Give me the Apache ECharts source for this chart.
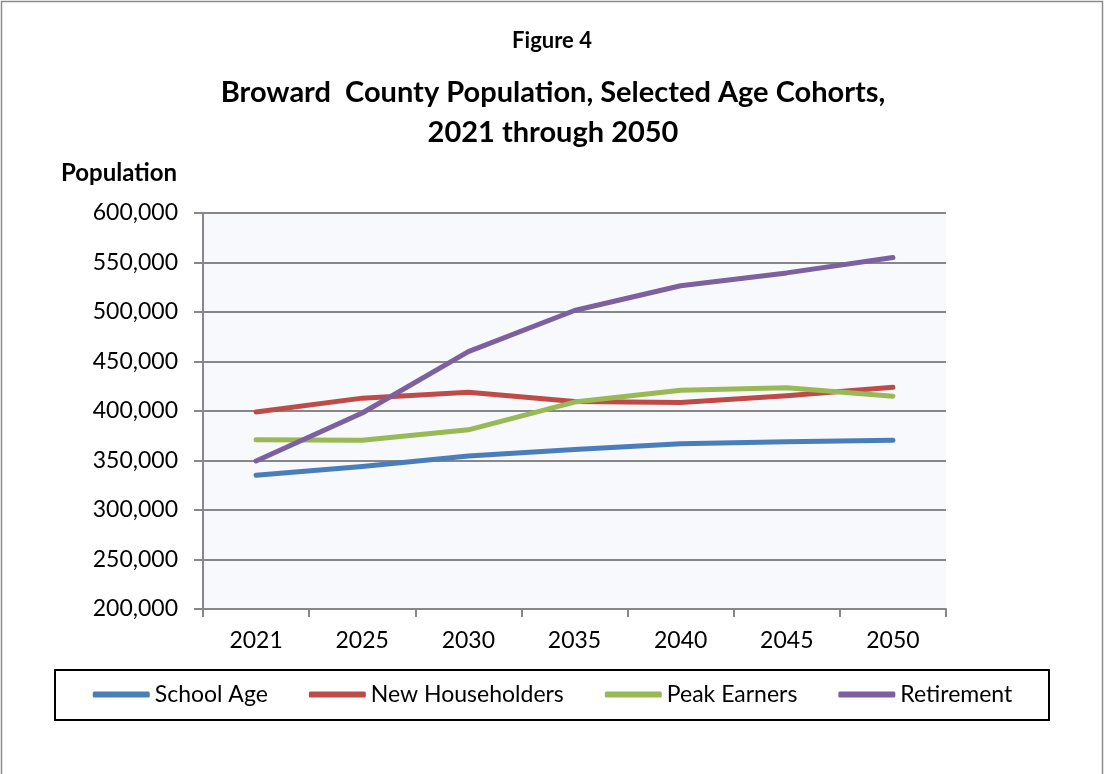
<!DOCTYPE html>
<html>
<head>
<meta charset="utf-8">
<script src="https://cdn.jsdelivr.net/npm/echarts@6/dist/echarts.min.js"></script>
<style>
  html, body { margin: 0; padding: 0; background: #ffffff; }
  #chart { width: 1105px; height: 774px; }
</style>
</head>
<body>
<div id="chart"></div>
<script>
// Years on the category axis
const years = ['2021', '2025', '2030', '2035', '2040', '2045', '2050'];

// Population by age cohort
const schoolAge       = [335000, 344000, 354500, 361000, 367000, 369000, 370500];
const newHouseholders = [399000, 413000, 419000, 409500, 408500, 415500, 424000];
const peakEarners     = [371000, 370500, 381000, 409000, 421000, 423500, 415000];
const retirement      = [349500, 398000, 460000, 501500, 526500, 539500, 555000];

// Value axis ticks
const yTicks = [200000, 250000, 300000, 350000, 400000, 450000, 500000, 550000, 600000];

const FONT = 'Lato, "Open Sans", "Noto Sans", sans-serif';
const colors = ['#4A7EBB', '#BE4B48', '#98B954', '#7D60A0'];

function lineSeries(name, data, color) {
  return {
    name: name,
    type: 'line',
    data: data,
    symbol: 'none',
    silent: true,
    color: color,
    lineStyle: { width: 5, color: color, cap: 'round', join: 'round' }
  };
}

const chart = echarts.init(document.getElementById('chart'), null, { renderer: 'canvas' });

chart.setOption({
  animation: false,
  backgroundColor: '#ffffff',
  textStyle: { fontFamily: FONT },
  grid: {
    left: 203, right: 159, top: 213, bottom: 165,
    show: true, backgroundColor: '#F7F9FD', borderWidth: 0
  },
  xAxis: {
    type: 'category',
    data: years,
    boundaryGap: true,
    axisLine: { show: true, lineStyle: { color: '#878787', width: 2 } },
    axisTick: { show: true, length: 8, lineStyle: { color: '#878787', width: 2 } },
    axisLabel: { color: '#000000', fontSize: 23, fontFamily: FONT, margin: 20 },
    splitLine: { show: false }
  },
  yAxis: {
    type: 'value',
    min: yTicks[0],
    max: yTicks[yTicks.length - 1],
    interval: yTicks[1] - yTicks[0],
    axisLine: { show: true, lineStyle: { color: '#878787', width: 2 } },
    axisTick: { show: true, length: 9, lineStyle: { color: '#878787', width: 2 } },
    axisLabel: {
      color: '#000000', fontSize: 23, fontFamily: FONT, margin: 25,
      formatter: v => v.toLocaleString('en-US')
    },
    splitLine: { show: true, lineStyle: { color: '#878787', width: 2 } }
  },
  legend: {
    data: ['School Age', 'New Householders', 'Peak Earners', 'Retirement'],
    left: 'center',
    top: 678,
    icon: 'roundRect',
    itemWidth: 57,
    itemHeight: 6,
    itemGap: 41,
    selectedMode: false,
    textStyle: { color: '#000000', fontSize: 23, fontFamily: FONT }
  },
  series: [
    lineSeries('School Age', schoolAge, colors[0]),
    lineSeries('New Householders', newHouseholders, colors[1]),
    lineSeries('Peak Earners', peakEarners, colors[2]),
    lineSeries('Retirement', retirement, colors[3])
  ],
  graphic: [
    // outer frame
    {
      type: 'rect', z: -1, silent: true,
      shape: { x: 1.5, y: 1.5, width: 1101, height: 800 },
      style: { fill: 'none', stroke: '#8C8C8C', lineWidth: 1.5 }
    },
    // legend frame
    {
      type: 'rect', silent: true,
      shape: { x: 55, y: 670, width: 994, height: 50 },
      style: { fill: 'none', stroke: '#000000', lineWidth: 2 }
    },
    {
      type: 'text', silent: true,
      style: {
        text: 'Figure 4', x: 552, y: 41, align: 'center', verticalAlign: 'middle',
        font: 'bold 22px ' + FONT, fill: '#000000'
      }
    },
    {
      type: 'text', silent: true,
      style: {
        text: 'Broward  County Population, Selected Age Cohorts,\n2021 through 2050',
        x: 553, y: 113, align: 'center', verticalAlign: 'middle', lineHeight: 40,
        font: 'bold 29px ' + FONT, fill: '#000000'
      }
    },
    {
      type: 'text', silent: true,
      style: {
        text: 'Population', x: 177, y: 173, align: 'right', verticalAlign: 'middle',
        font: 'bold 24px ' + FONT, fill: '#000000'
      }
    }
  ]
});
</script>
</body>
</html>
